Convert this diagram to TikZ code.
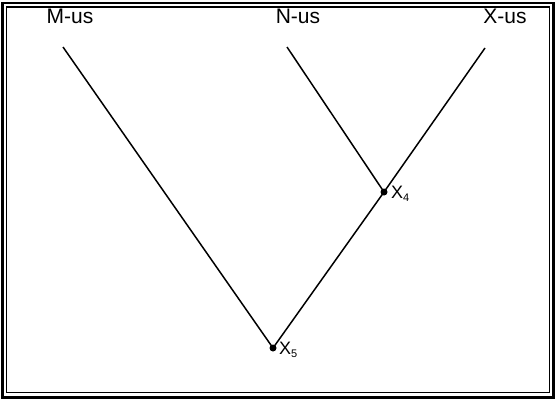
\documentclass[tikz,border=0pt]{standalone}
\usepackage{fontspec}
\setmainfont{Liberation Sans}
\newcommand{\subn}[1]{\raisebox{-0.35ex}{\fontsize{11}{12}\selectfont #1}}
\begin{document}
\begin{tikzpicture}[x=1pt,y=-1pt,
  lbl/.style={font=\fontsize{21}{24}\selectfont, inner sep=0pt},
  xlbl/.style={font=\fontsize{18}{20}\selectfont, inner sep=0pt, anchor=west},
  branch/.style={line width=1.5pt},
  dot/.style={circle, fill=black, inner sep=0pt, minimum size=7pt}]
\useasboundingbox (0,0) rectangle (556,400);
\draw[line width=2.4pt] (2.5,3) rectangle (553.5,397.5);
\draw[line width=1.3pt] (6.5,7) rectangle (549.5,392.5);
\node[lbl] (M) at (70,16) {M-us};
\node[lbl] (N) at (298,16) {N-us};
\node[lbl] (X) at (505,16) {X-us};
\coordinate (ms) at (63,47);
\coordinate (ns) at (287,47);
\coordinate (xs) at (485,48);
\node[dot] (x4) at (384,192) {};
\node[dot] (x5) at (273,348) {};
\node[xlbl] (l4) at (391,194) {X\subn{4}};
\node[xlbl] (l5) at (279,350) {X\subn{5}};
\draw[branch] (ms) -- (x5.center);
\draw[branch] (ns) -- (x4.center);
\draw[branch] (xs) -- (x4.center) -- (x5.center);
\end{tikzpicture}
\end{document}
